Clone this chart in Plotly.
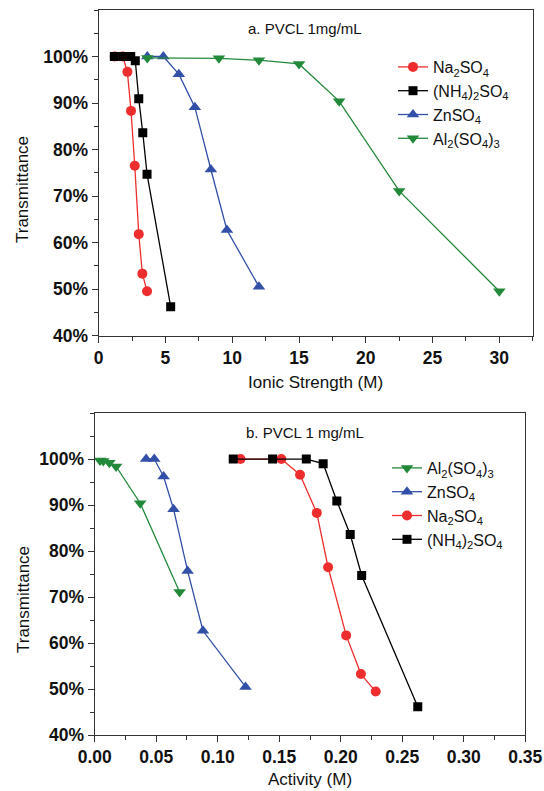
import plotly.graph_objects as go

# ---------- data: panel a (ionic strength) ----------
na_ionic = [1.2, 1.8, 2.15, 2.42, 2.7, 3.0, 3.27, 3.62]
na_trans = [100, 100, 96.7, 88.3, 76.5, 61.8, 53.3, 49.5]
nh4_ionic = [1.17, 1.84, 2.4, 2.74, 3.0, 3.3, 3.62, 5.39]
nh4_trans = [100, 100, 100, 99.1, 90.9, 83.6, 74.7, 46.2]
zn_ionic = [3.64, 4.84, 6.0, 7.2, 8.4, 9.6, 12.0]
zn_trans = [100, 100, 96.2, 89.1, 75.7, 62.7, 50.5]
al_ionic = [3.64, 9.0, 12.0, 15.0, 18.0, 22.5, 30.0]
al_trans = [99.7, 99.6, 99.2, 98.4, 90.4, 71.1, 49.5]

# ---------- data: panel b (activity) ----------
al_act = [0.0043, 0.0070, 0.0119, 0.0174, 0.037, 0.069]
al_act_trans = [99.7, 99.6, 99.2, 98.4, 90.4, 71.1]
zn_act = [0.0418, 0.0484, 0.056, 0.0641, 0.0755, 0.088, 0.1226]
zn_act_trans = [100, 100, 96.2, 89.1, 75.7, 62.7, 50.5]
na_act = [0.1185, 0.1517, 0.1669, 0.1805, 0.1897, 0.2044, 0.2164, 0.2284]
na_act_trans = [100, 100, 96.6, 88.3, 76.5, 61.7, 53.3, 49.5]
nh4_act = [0.1126, 0.1446, 0.172, 0.1857, 0.1968, 0.2077, 0.217, 0.2626]
nh4_act_trans = [100, 100, 100, 99.0, 90.9, 83.6, 74.7, 46.2]

# ---------- tick labels ----------
y_tickvals = [40, 50, 60, 70, 80, 90, 100]
y_ticktext = ["40%", "50%", "60%", "70%", "80%", "90%", "100%"]
x1_tickvals = [0, 5, 10, 15, 20, 25, 30]
x1_ticktext = ["0", "5", "10", "15", "20", "25", "30"]
x2_tickvals = [0, 0.05, 0.10, 0.15, 0.20, 0.25, 0.30, 0.35]
x2_ticktext = ["0.00", "0.05", "0.10", "0.15", "0.20", "0.25", "0.30", "0.35"]

names = {
    "na": "Na<sub>2</sub>SO<sub>4</sub>",
    "nh4": "(NH<sub>4</sub>)<sub>2</sub>SO<sub>4</sub>",
    "zn": "ZnSO<sub>4</sub>",
    "al": "Al<sub>2</sub>(SO<sub>4</sub>)<sub>3</sub>",
}
colors = {"na": "#EE2E2E", "nh4": "#000000", "zn": "#3350A8", "al": "#23893A"}
symbols = {"na": "circle", "nh4": "square", "zn": "triangle-up", "al": "triangle-down"}
msize = {"na": 10, "nh4": 9, "zn": 11, "al": 11}

FONT = "Liberation Sans, Arial, sans-serif"
fig = go.Figure()


def add(x, y, key, xa, ya, legend):
    fig.add_trace(go.Scatter(
        x=x, y=y, mode="lines+markers", name=names[key],
        xaxis=xa, yaxis=ya, legend=legend,
        line=dict(color=colors[key], width=1.3),
        marker=dict(symbol=symbols[key], size=msize[key], color=colors[key]),
    ))


add(na_ionic, na_trans, "na", "x", "y", "legend")
add(nh4_ionic, nh4_trans, "nh4", "x", "y", "legend")
add(zn_ionic, zn_trans, "zn", "x", "y", "legend")
add(al_ionic, al_trans, "al", "x", "y", "legend")

add(al_act, al_act_trans, "al", "x2", "y2", "legend2")
add(zn_act, zn_act_trans, "zn", "x2", "y2", "legend2")
add(na_act, na_act_trans, "na", "x2", "y2", "legend2")
add(nh4_act, nh4_act_trans, "nh4", "x2", "y2", "legend2")

W, H = 544, 791
axcol = "#333333"
TICKFONT = dict(family=FONT, size=17.5, color="#111111", weight="bold")
TITLEFONT = dict(family=FONT, size=17, color="#111111")


def xax(domain, rng, tv, tt, minor, anchor):
    return dict(domain=domain, range=rng, anchor=anchor, automargin=False,
                tickmode="array", tickvals=tv, ticktext=tt,
                showline=True, linecolor=axcol, linewidth=1.3, mirror=True,
                ticks="outside", ticklen=6, tickwidth=1.3, tickcolor=axcol,
                minor=dict(dtick=minor, tick0=0, ticks="outside", ticklen=4, tickwidth=1.2, tickcolor=axcol),
                showgrid=False, zeroline=False, tickfont=TICKFONT)


def yax(domain, anchor):
    return dict(domain=domain, range=[40, 110], anchor=anchor, automargin=False,
                tickmode="array", tickvals=y_tickvals, ticktext=y_ticktext,
                showline=True, linecolor=axcol, linewidth=1.3, mirror=True,
                ticks="outside", ticklen=6, tickwidth=1.3, tickcolor=axcol,
                minor=dict(dtick=5, tick0=0, ticks="outside", ticklen=4, tickwidth=1.2, tickcolor=axcol),
                showgrid=False, zeroline=False, tickfont=TICKFONT)


def ann(text, x, y, font, angle=0):
    return dict(text=text, x=x / W, y=1 - y / H, xref="paper", yref="paper",
                xanchor="center", yanchor="middle", textangle=angle,
                showarrow=False, font=font)


fig.update_layout(
    width=W, height=H, margin=dict(l=0, r=0, t=0, b=0, autoexpand=False),
    paper_bgcolor="white", plot_bgcolor="white",
    font=dict(family=FONT, color="#111111"),
    xaxis=xax([98.7 / W, 532.7 / W], [0, 32.5], x1_tickvals, x1_ticktext, 2.5, "y"),
    yaxis=yax([1 - 335.5 / H, 1 - 10 / H], "x"),
    xaxis2=xax([94.7 / W, 525.3 / W], [0, 0.35], x2_tickvals, x2_ticktext, 0.025, "y2"),
    yaxis2=yax([1 - 735.3 / H, 1 - 413 / H], "x2"),
    legend=dict(x=393 / W, y=1 - 50 / H, xanchor="left", yanchor="top",
                font=dict(family=FONT, size=16, color="#111111"),
                bgcolor="rgba(0,0,0,0)", itemwidth=30, tracegroupgap=0),
    legend2=dict(x=387 / W, y=1 - 451 / H, xanchor="left", yanchor="top",
                 font=dict(family=FONT, size=16, color="#111111"),
                 bgcolor="rgba(0,0,0,0)", itemwidth=30, tracegroupgap=0),
    annotations=[
        ann("a. PVCL 1mg/mL", 305, 29, dict(family=FONT, size=15, color="#111111")),
        ann("b. PVCL 1 mg/mL", 305, 432, dict(family=FONT, size=15, color="#111111")),
        ann("Ionic Strength (M)", 315, 382, TITLEFONT),
        ann("Activity (M)", 310, 779, TITLEFONT),
        ann("Transmittance", 23, 190, TITLEFONT, -90),
        ann("Transmittance", 23, 600, TITLEFONT, -90),
    ],
)

fig.write_html("out.html", config={"displayModeBar": False},
               post_script="document.body.style.margin='0';document.body.style.overflow='hidden';")
